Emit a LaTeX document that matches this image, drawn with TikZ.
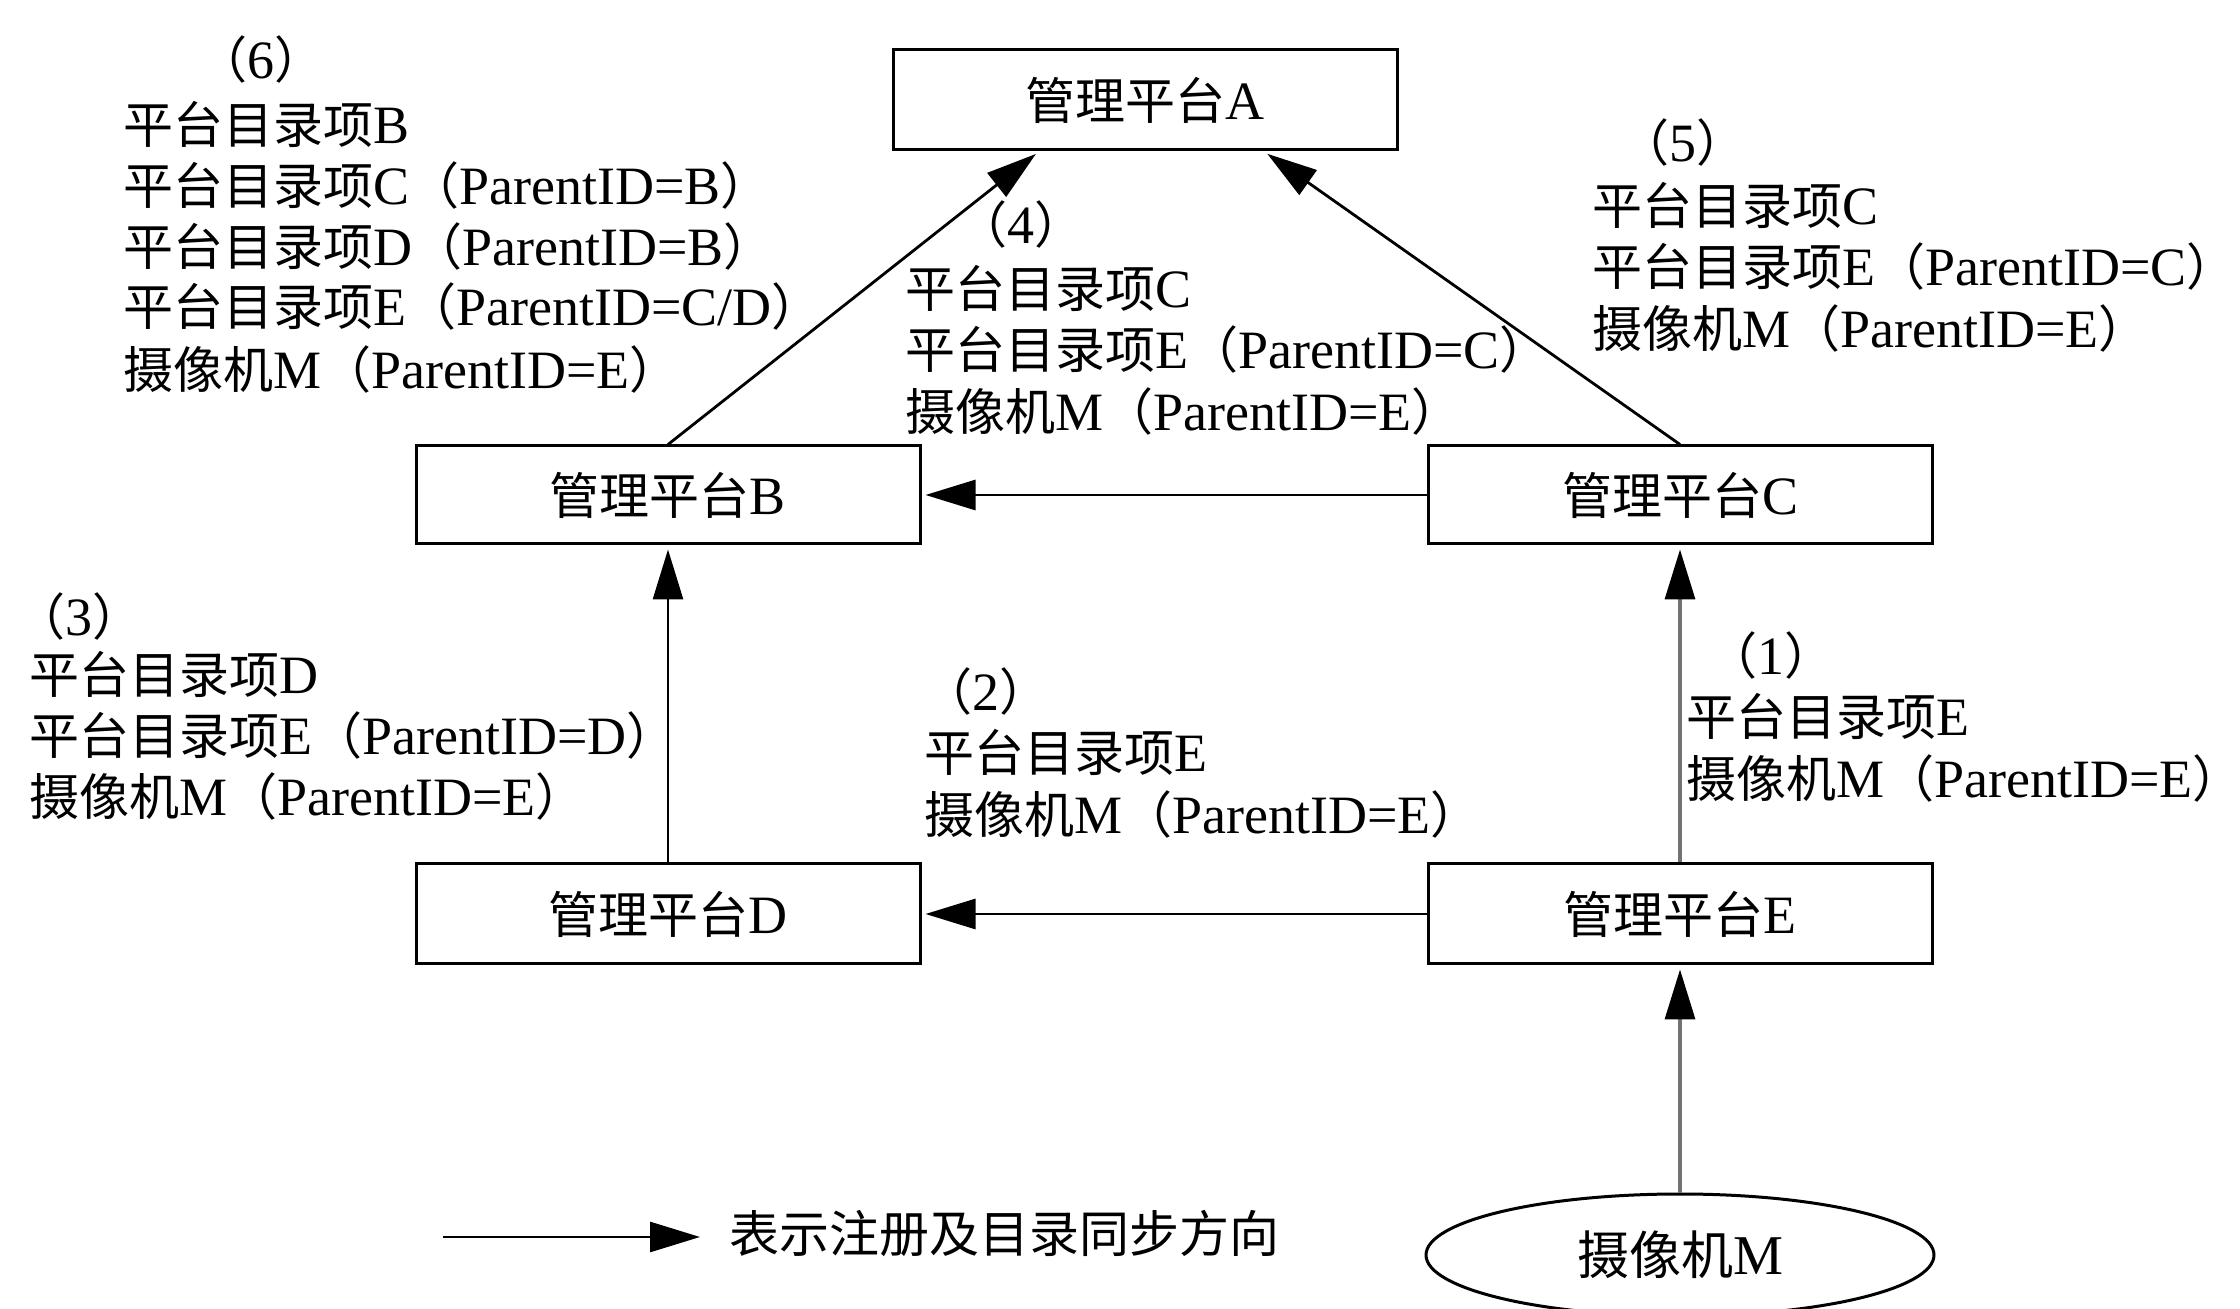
\documentclass[tikz,border=0pt]{standalone}
\usepackage{fontspec}
\setmainfont{Liberation Serif}[Scale=1.08]
\newfontfamily\cjk{Noto Sans CJK SC}
\usetikzlibrary{arrows.meta,shapes.geometric,calc}
\newcommand\zh[1]{{\cjk #1}}
\begin{document}
\begin{tikzpicture}[x=0.5pt,y=-0.5pt,
  box/.style={draw, line width=1.5pt, minimum width=252pt, minimum height=49pt, inner sep=0pt, font=\fontsize{25}{30}\selectfont},
  lbl/.style={anchor=west, inner sep=0pt, text height=19pt, text depth=4pt, font=\fontsize{25}{30}\selectfont},
  num/.style={inner sep=0pt, text height=19pt, text depth=4pt, font=\fontsize{25}{30}\selectfont},
  arr/.style={line width=1.4pt, -{Triangle[length=25pt,width=15pt]}, shorten >=2pt},
  garr/.style={line width=1.7pt, draw=black!55, -{Triangle[length=25pt,width=15pt,color=black]}, shorten >=2pt}
]
\useasboundingbox (0,0) rectangle (2240,1309);

% boxes
\node[box, minimum height=50pt] (A) at (1145,100) {\zh{管理平台}A};
\node[box] (B) at (668,495) {\zh{管理平台}B};
\node[box] (C) at (1680,495) {\zh{管理平台}C};
\node[box, minimum height=50pt] (D) at (668,914) {\zh{管理平台}D};
\node[box, minimum height=50pt] (E) at (1680,914) {\zh{管理平台}E};
\node[ellipse, draw, line width=1.5pt, minimum width=254pt, minimum height=61pt, inner sep=0pt, font=\fontsize{26}{30}\selectfont] (M) at (1680,1255) {\zh{摄像机}M};

% connectors
\draw[arr] (B.north) -- ($(A.south)+(-106,0)$);
\draw[arr] (C.north) -- ($(A.south)+(119,0)$);
\draw[arr] (C.west) -- (B.east);
\draw[arr] (D.north) -- (B.south);
\draw[arr] (E.west) -- (D.east);
\draw[garr] (E.north) -- (C.south);
\draw[garr] (M.north) -- (E.south);

% (6)
\node[num] (n6) at (261,64) {\zh{（}6\zh{）}};
\node[lbl] (l6a) at (123,129) {\zh{平台目录项}B};
\node[lbl] (l6b) at (123,190) {\zh{平台目录项}C\zh{（}ParentID=B\zh{）}};
\node[lbl] (l6c) at (123,251) {\zh{平台目录项}D\zh{（}ParentID=B\zh{）}};
\node[lbl] (l6d) at (123,311) {\zh{平台目录项}E\zh{（}ParentID=C/D\zh{）}};
\node[lbl] (l6e) at (123,374) {\zh{摄像机}M\zh{（}ParentID=E\zh{）}};

% (4)
\node[num] (n4) at (1021,229) {\zh{（}4\zh{）}};
\node[lbl] (l4a) at (905,293) {\zh{平台目录项}C};
\node[lbl] (l4b) at (905,354) {\zh{平台目录项}E\zh{（}ParentID=C\zh{）}};
\node[lbl] (l4c) at (905,416) {\zh{摄像机}M\zh{（}ParentID=E\zh{）}};

% (5)
\node[num] (n5) at (1683,147) {\zh{（}5\zh{）}};
\node[lbl] (l5a) at (1592,210) {\zh{平台目录项}C};
\node[lbl] (l5b) at (1592,271) {\zh{平台目录项}E\zh{（}ParentID=C\zh{）}\kern-10pt};
\node[lbl] (l5c) at (1592,333) {\zh{摄像机}M\zh{（}ParentID=E\zh{）}};

% (3)
\node[num] (n3) at (79,621) {\zh{（}3\zh{）}};
\node[lbl] (l3a) at (29,679) {\zh{平台目录项}D};
\node[lbl] (l3b) at (29,740) {\zh{平台目录项}E\zh{（}ParentID=D\zh{）}};
\node[lbl] (l3c) at (29,801) {\zh{摄像机}M\zh{（}ParentID=E\zh{）}};

% (2)
\node[num] (n2) at (986,696) {\zh{（}2\zh{）}};
\node[lbl] (l2a) at (924,757) {\zh{平台目录项}E};
\node[lbl] (l2b) at (924,819) {\zh{摄像机}M\zh{（}ParentID=E\zh{）}};

% (1)
\node[num] (n1) at (1771,660) {\zh{（}1\zh{）}};
\node[lbl] (l1a) at (1686,721) {\zh{平台目录项}E};
\node[lbl] (l1b) at (1686,783) {\zh{摄像机}M\zh{（}ParentID=E\zh{）}\kern-12pt};

% legend
\coordinate (L1) at (443,1237);
\coordinate (L2) at (700,1237);
\draw[arr, shorten >=0pt] (L1) -- (L2);
\node[lbl] (leg) at (729,1237) {\zh{表示注册及目录同步方向}};
\end{tikzpicture}
\end{document}
